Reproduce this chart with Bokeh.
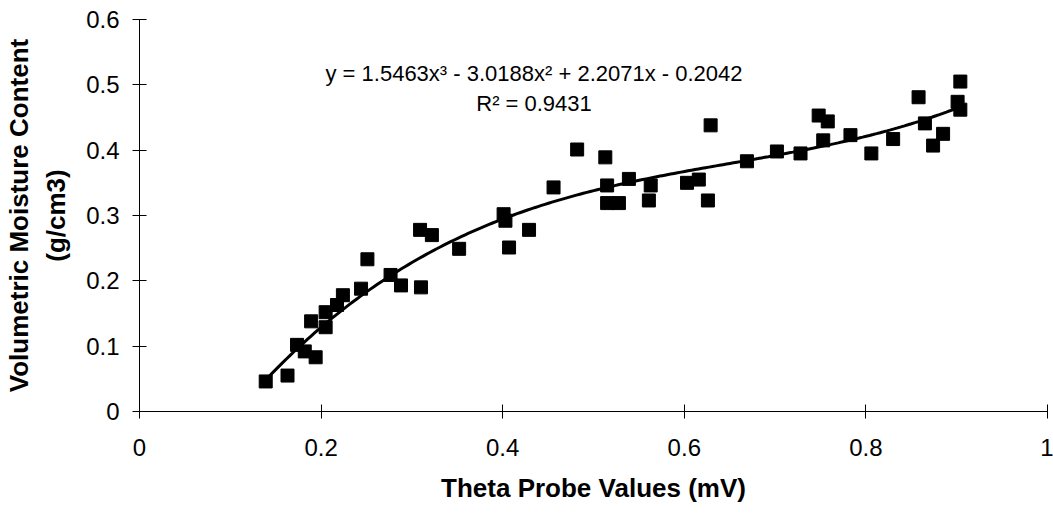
from bokeh.plotting import figure
from bokeh.models import Range1d, ColumnDataSource, Label, FixedTicker
from bokeh.embed import file_html
from bokeh.resources import INLINE
import numpy as np

theta_mv = [0.139, 0.163, 0.1735, 0.182, 0.194, 0.189, 0.205, 0.205, 0.2175, 0.224, 0.244,
            0.251, 0.2765, 0.288, 0.310, 0.309, 0.322, 0.352, 0.401, 0.403, 0.407, 0.429, 0.456,
            0.482, 0.513, 0.515, 0.515, 0.528, 0.539, 0.563, 0.561, 0.603, 0.616, 0.626, 0.629,
            0.669, 0.702, 0.728, 0.748, 0.758, 0.753, 0.783, 0.806, 0.830, 0.858, 0.865, 0.885,
            0.874, 0.904, 0.901, 0.904]
moisture = [0.046, 0.055, 0.102, 0.092, 0.083, 0.138, 0.129, 0.152, 0.163, 0.178, 0.188,
            0.233, 0.209, 0.193, 0.190, 0.278, 0.270, 0.249, 0.302, 0.292, 0.251, 0.278, 0.343,
            0.401, 0.389, 0.346, 0.319, 0.319, 0.356, 0.346, 0.323, 0.350, 0.355, 0.323, 0.438,
            0.383, 0.398, 0.395, 0.453, 0.444, 0.415, 0.423, 0.395, 0.417, 0.481, 0.441, 0.425,
            0.407, 0.505, 0.474, 0.462]

# cubic trendline coefficients (highest power first), as printed on the chart
trend_coeffs = [1.5463, -3.0188, 2.2071, -0.2042]
trend_x_range = [min(theta_mv), max(theta_mv)]

x_ticks = [0, 0.2, 0.4, 0.6, 0.8, 1]
y_ticks = [0, 0.1, 0.2, 0.3, 0.4, 0.5, 0.6]

FONT = "Liberation Sans"

p = figure(width=1053, height=513, output_backend="svg", toolbar_location=None,
           x_range=Range1d(0, 1), y_range=Range1d(0, 0.6),
           min_border_left=138, min_border_right=6, min_border_top=19, min_border_bottom=102)
p.outline_line_color = None
p.xgrid.visible = False
p.ygrid.visible = False
p.background_fill_color = "white"
p.border_fill_color = "white"

tx = np.linspace(trend_x_range[0], trend_x_range[1], 200)
ty = np.polyval(trend_coeffs, tx)
p.line(tx, ty, line_color="black", line_width=3)

src = ColumnDataSource(dict(x=theta_mv, y=moisture))
p.scatter("x", "y", source=src, marker="square", size=13, fill_color="black", line_color="black")

for ax in (p.xaxis[0], p.yaxis[0]):
    ax.axis_line_color = "black"
    ax.axis_line_width = 1
    ax.major_tick_line_color = "black"
    ax.major_tick_in = 7
    ax.major_tick_out = 7
    ax.minor_tick_line_color = None
    ax.major_label_text_font = FONT
    ax.major_label_text_font_size = "24px"
    ax.major_label_text_color = "black"
    ax.axis_label_text_font = FONT
    ax.axis_label_text_font_size = "26px"
    ax.axis_label_text_font_style = "bold"
    ax.axis_label_text_color = "black"

p.xaxis.ticker = FixedTicker(ticks=x_ticks)
p.yaxis.ticker = FixedTicker(ticks=y_ticks)
p.xaxis.major_label_overrides = {0: "0", 1: "1"}
p.yaxis.major_label_overrides = {0: "0"}
p.xaxis.axis_label = "Theta Probe Values (mV)"
p.yaxis.axis_label = "Volumetric Moisture Content\n(g/cm3)"
p.yaxis.axis_label_text_line_height = 1.25
p.xaxis.major_label_standoff = 20
p.yaxis.major_label_standoff = 13
p.xaxis.axis_label_standoff = 14
p.yaxis.axis_label_standoff = 12

p.add_layout(Label(x=0.4345, y=0.517, text="y = 1.5463x³ - 3.0188x² + 2.2071x - 0.2042",
                   text_font=FONT, text_font_size="22px", text_align="center",
                   text_baseline="middle", text_color="black"))
p.add_layout(Label(x=0.4345, y=0.471, text="R² = 0.9431",
                   text_font=FONT, text_font_size="22px", text_align="center",
                   text_baseline="middle", text_color="black"))

open("out.html", "w").write(file_html(p, INLINE))
